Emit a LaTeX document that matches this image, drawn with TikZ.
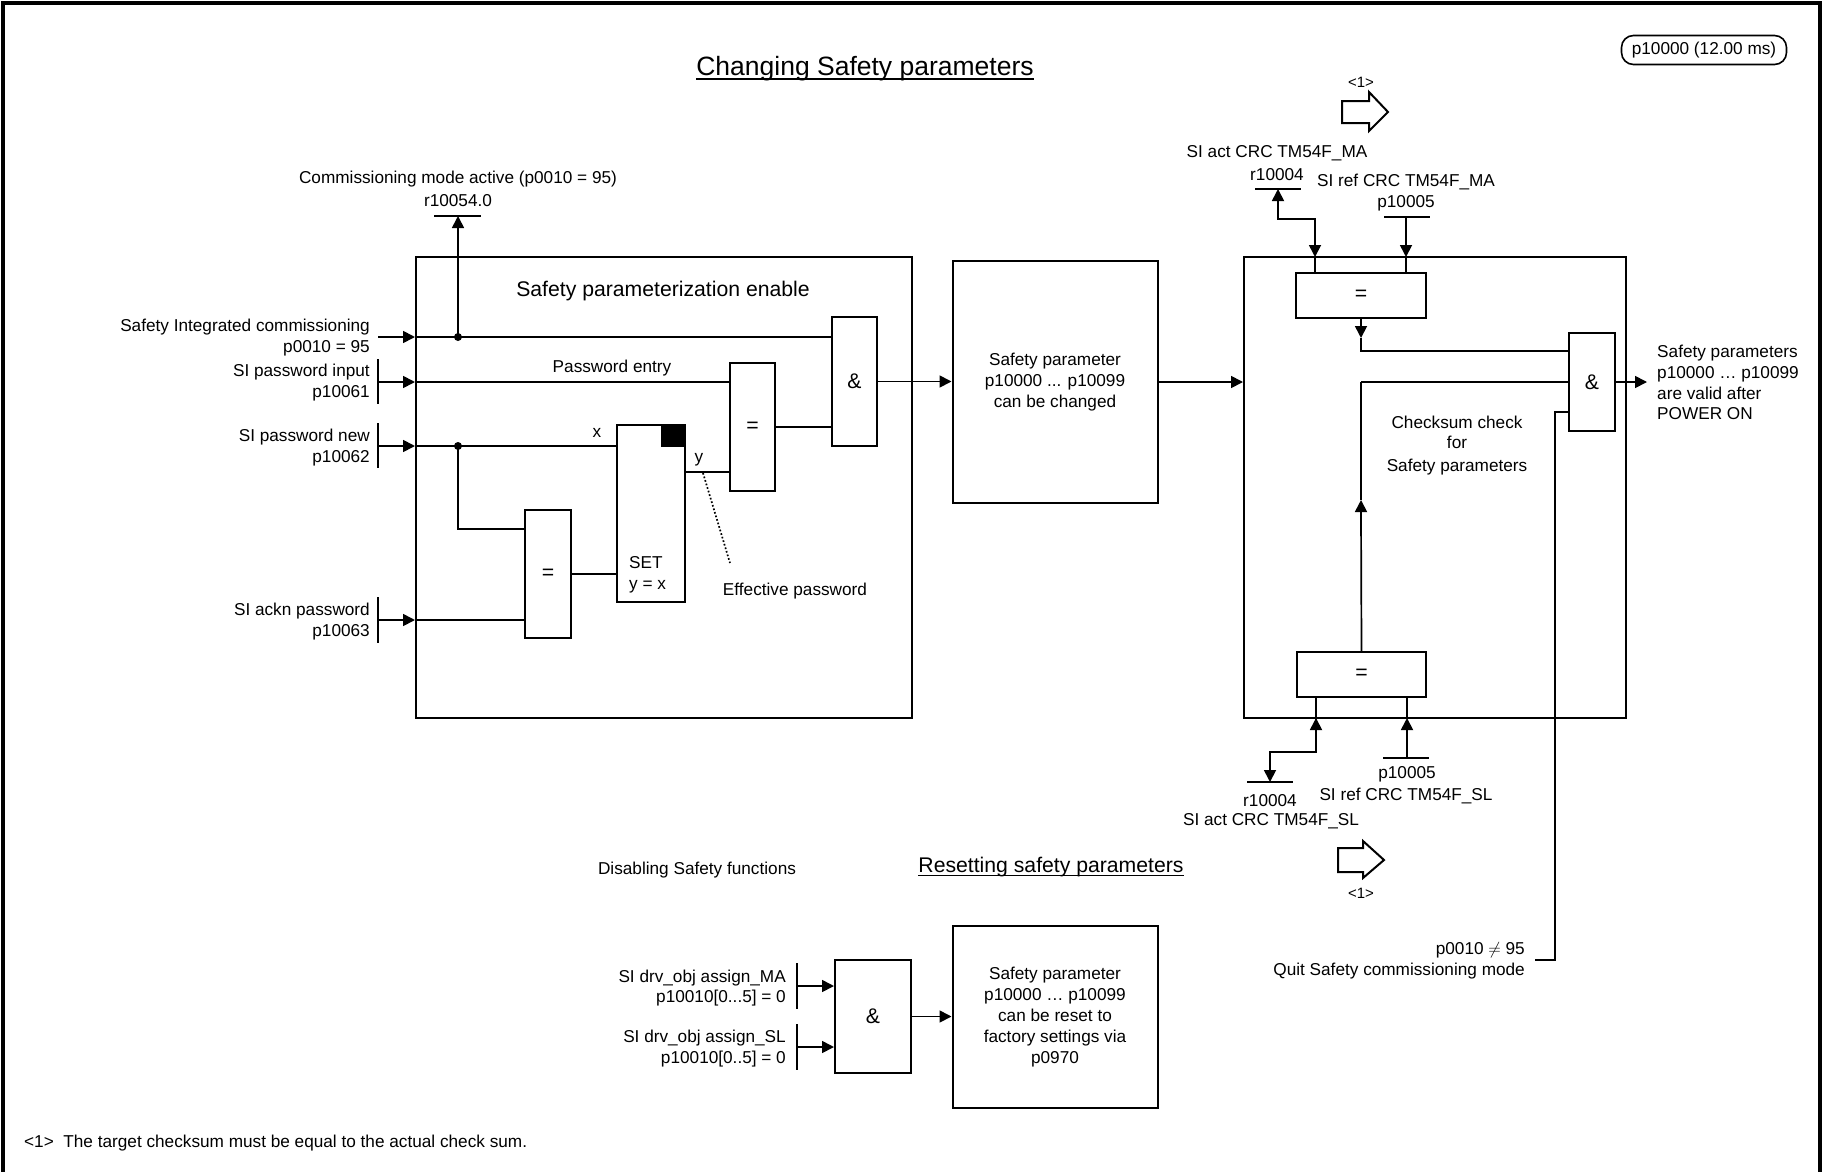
\documentclass[tikz,border=0pt]{standalone}
\usepackage{fontspec}
\setmainfont{Liberation Sans}
\usetikzlibrary{arrows.meta,calc}
\newcommand{\fsn}{\fontsize{17.2}{20.8}\selectfont}
\newcommand{\fsb}{\fontsize{21.2}{24}\selectfont}
\newcommand{\fst}{\fontsize{26.5}{30}\selectfont}
\tikzset{
  wire/.style={line width=1.7pt},
  arr/.style={wire,-{Triangle[length=12pt,width=12pt]}},
  rarr/.style={wire,{Triangle[length=12pt,width=12pt]}-},
  blk/.style={draw,line width=2pt,inner sep=0pt,anchor=center,font=\fsn,align=center},
  gate/.style={blk,font=\fsb},
  txt/.style={inner sep=0pt,font=\fsn,yshift=-1.5pt},
  dotj/.style={circle,fill,inner sep=0pt,minimum size=8pt},
  hollow/.style={draw,line width=2pt,fill=white,line join=miter}
}
\begin{document}
\begin{tikzpicture}[x=1pt,y=-1pt]
\useasboundingbox (0,0) rectangle (1825,1172);
% frame
\draw[line width=3.5pt] (3,1172) -- (3,3) -- (1820,3) -- (1820,1172);

% top right tag
\node[draw,line width=1.6pt,rounded corners=12pt,minimum width=165pt,minimum height=29pt,font=\fsn,inner sep=0pt] (tag) at (1704,50) {p10000 (12.00 ms)};

% titles
\node[inner sep=0pt,font=\fst,anchor=base] (title) at (865,75.5) {Changing Safety parameters};
\draw[line width=1.5pt] (title.base west) ++(0,3.5) -- ($(title.base east)+(0,3.5)$);
\node[inner sep=0pt,font=\fsb,anchor=base] (title2) at (1051,872.5) {Resetting safety parameters};
\draw[line width=1.4pt] (title2.base west) ++(0,3) -- ($(title2.base east)+(0,3)$);
\node[txt] (dis) at (697,869) {Disabling Safety functions};

% ---------------- left block ----------------
\node[blk,minimum width=496pt,minimum height=461pt] (spe) at (664,487.5) {};
\node[txt,font=\fsb] (spet) at (663,290) {Safety parameterization enable};
\node[gate,minimum width=45pt,minimum height=129pt] (and1) at (854.5,381.5) {\&};
\node[gate,minimum width=45pt,minimum height=128pt] (eq1) at (752.5,427) {=};
\node[gate,minimum width=46pt,minimum height=128pt] (eq2) at (548,574) {=};
\node[blk,minimum width=68pt,minimum height=177pt] (set) at (651,513.5) {};
\fill (661,425) rectangle (685,447);
\node[txt,anchor=west,align=left] (settxt) at (629,573.5) {SET\\y = x};
\node[txt] (xl) at (597,431) {x};
\node[txt] (yl) at (699,458) {y};
\node[txt] (pwe) at (612,367) {Password entry};
\node[txt] (effp) at (795,590) {Effective password};

% input labels
\node[txt,anchor=east,align=right] (l1) at (370,336) {Safety Integrated commissioning\\p0010 = 95};
\node[txt,anchor=east,align=right] (l2) at (370,381) {SI password input\\p10061};
\node[txt,anchor=east,align=right] (l3) at (370,446) {SI password new\\p10062};
\node[txt,anchor=east,align=right] (l4) at (370,620) {SI ackn password\\p10063};

\coordinate (i1) at (378,337);
\coordinate (i2) at (378,382);
\coordinate (i3) at (378,446);
\coordinate (i4) at (378,620);
\draw[wire] (378,359) -- (378,404);
\draw[wire] (378,423) -- (378,468);
\draw[wire] (378,597) -- (378,643);

\draw[arr] (i1) -- (i1 -| spe.west);
\draw[arr] (i2) -- (i2 -| spe.west);
\draw[arr] (i3) -- (i3 -| spe.west);
\draw[arr] (i4) -- (i4 -| spe.west);

\coordinate (j1) at (458,337);
\coordinate (j3) at (458,446);
\draw[wire] (spe.west |- i1) -- (i1 -| and1.west);
\draw[wire] (spe.west |- i2) -- (i2 -| eq1.west);
\draw[wire] (spe.west |- i3) -- (i3 -| set.west);
\draw[wire] (spe.west |- i4) -- (i4 -| eq2.west);
\node[dotj] (d1) at (j1) {};
\node[dotj] (d3) at (j3) {};
% commissioning mode active output
\coordinate (r54) at (458,216);
\draw[arr] (j1) -- (r54);
\draw[wire] (434,216) -- (481,216);
\node[txt] (r54a) at (458,199) {r10054.0};
\node[txt] (r54b) at (458,178) {Commissioning mode active (p0010 = 95)};
% branch to eq2
\draw[wire] (j3) -- (458,529) -- (458,529 -| eq2.west);
\draw[wire] (eq2.east) -- (eq2.east -| set.west);
\coordinate (yo) at (685,472);
\draw[wire] (yo) -- (yo -| eq1.west);
\draw[wire,dotted] (703,473) -- (730,563);
\draw[wire] (eq1.east) -- (eq1.east -| and1.west);

% ---------------- middle ----------------
\node[blk,minimum width=205pt,minimum height=242pt] (box2) at (1055,382) {Safety parameter\\p10000 ... p10099\\can be changed};
\draw[arr] (and1.east) -- (and1.east -| box2.west);

% ---------------- right block ----------------
\node[blk,minimum width=382pt,minimum height=461pt] (crc) at (1435,487.5) {};
\draw[arr] (box2.east) -- (box2.east -| crc.west);
\node[gate,minimum width=130pt,minimum height=45pt] (eqT) at (1361,295.5) {=};
\node[gate,minimum width=129pt,minimum height=45pt] (eqB) at (1361.5,674.5) {=};
\node[gate,minimum width=46pt,minimum height=98pt] (and2) at (1592,382) {\&};
\node[txt,align=center] (cs) at (1457,444) {Checksum check\\for\\[2pt]Safety parameters};

% top inputs
\draw[wire] (1255,189) -- (1301,189);
\draw[rarr] (1278,189) -- (1278,219) -- (1315,219) -- (1315,235);
\draw[arr] (1315,235) -- (1315,257);
\draw[wire] (1315,257) -- (1315,273);
\node[txt] (ta1) at (1277,152) {SI act CRC TM54F\_MA};
\node[txt] (ta2) at (1277,173) {r10004};
\draw[wire] (1384,217) -- (1430,217);
\draw[arr] (1406,217) -- (1406,257);
\draw[wire] (1406,257) -- (1406,273);
\node[txt] (tr1) at (1406,180) {SI ref CRC TM54F\_MA};
\node[txt] (tr2) at (1406,202) {p10005};

% eqT output
\draw[arr] (eqT.south) -- (1361,338);
\draw[wire] (1361,338) -- (1361,351) -- (1361,351 -| and2.west);
% checksum path
\draw[wire] (1361,382) -- (1361,382 -| and2.west);
\draw[wire] (eqB.north) -- (1361,514);
\draw[arr] (1361,514) -- (1361,500);
\draw[wire] (1361,500) -- (1361,382);
% quit commissioning path
\draw[wire] (1555,412 -| and2.west) -- (1555,412) -- (1555,960) -- (1535,960);
\node[txt,anchor=east,align=right] (quit) at (1525,959.5) {p0010 $\neq$ 95\\Quit Safety commissioning mode};
% output
\draw[arr] (and2.east) -- (1647,382);
\node[txt,anchor=west,align=left] (valid) at (1657,381) {Safety parameters\\p10000 … p10099\\are valid after\\POWER ON};

% bottom inputs
\draw[wire] (1316,697) -- (1316,730);
\draw[arr] (1316,730) -- (1316,718);
\draw[arr] (1316,730) -- (1316,752) -- (1270,752) -- (1270,782);
\draw[wire] (1247,782) -- (1293,782);
\node[txt] (ba2) at (1270,799) {r10004};
\node[txt] (ba1) at (1271,820) {SI act CRC TM54F\_SL};
\draw[wire] (1383,758) -- (1429,758);
\draw[arr] (1407,758) -- (1407,718);
\draw[wire] (1407,718) -- (1407,697);
\node[txt] (br2) at (1407,773) {p10005};
\node[txt] (br1) at (1406,794) {SI ref CRC TM54F\_SL};

% hollow arrows <1>
\draw[hollow] (1342,101) -- (1369,101) -- (1369,92) -- (1388,112) -- (1369,131) -- (1369,123) -- (1342,123) -- cycle;
\node[txt,font=\fontsize{15}{17}\selectfont] (n1a) at (1361,81) {<1>};
\draw[hollow] (1338,848) -- (1363,848) -- (1363,841) -- (1384,860) -- (1363,878) -- (1363,872) -- (1338,872) -- cycle;
\node[txt,font=\fontsize{15}{17}\selectfont] (n1b) at (1361,892) {<1>};

% ---------------- reset section ----------------
\node[gate,minimum width=76pt,minimum height=113pt] (and3) at (873,1016.5) {\&};
\node[blk,minimum width=205pt,minimum height=182pt] (box3) at (1055,1017) {Safety parameter\\p10000 … p10099\\can be reset to\\factory settings via\\p0970};
\coordinate (k1) at (797,986);
\coordinate (k2) at (797,1047);
\draw[wire] (797,963) -- (797,1009);
\draw[wire] (797,1024) -- (797,1070);
\draw[arr] (k1) -- (k1 -| and3.west);
\draw[arr] (k2) -- (k2 -| and3.west);
\node[txt,anchor=east,align=right] (m1) at (786,986.5) {SI drv\_obj assign\_MA\\p10010[0...5] = 0};
\node[txt,anchor=east,align=right] (m2) at (786,1047) {SI drv\_obj assign\_SL\\p10010[0..5] = 0};
\draw[arr] (and3.east) -- (and3.east -| box3.west);

% footnote
\node[txt,anchor=west] (foot) at (24,1142) {<1>\ \ The target checksum must be equal to the actual check sum.};
\end{tikzpicture}
\end{document}
